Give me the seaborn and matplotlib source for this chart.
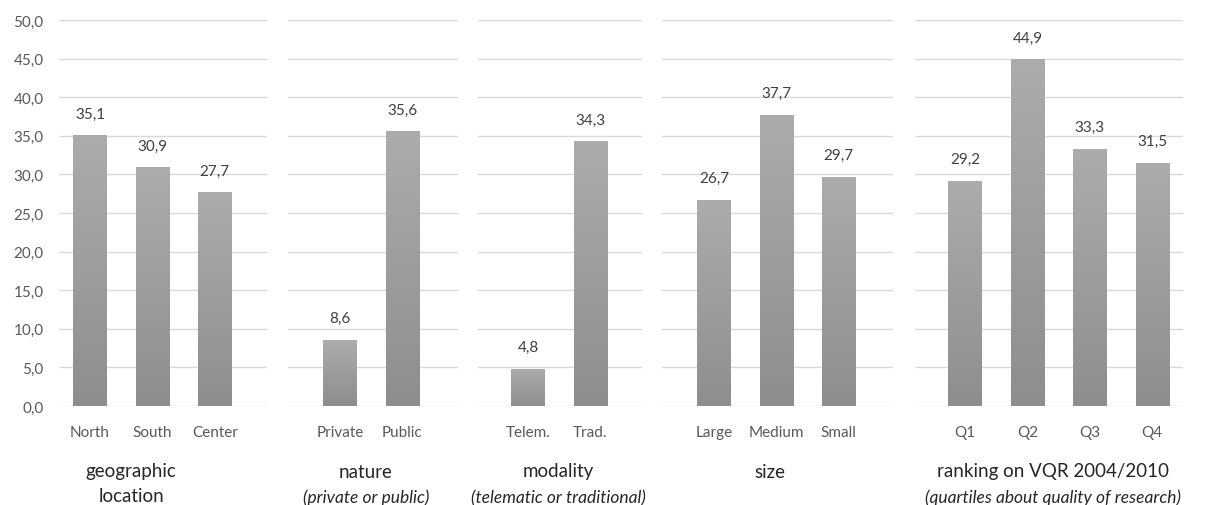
import numpy as np
import pandas as pd
import matplotlib
matplotlib.use("Agg")
import matplotlib.pyplot as plt
import seaborn as sns
from matplotlib.colors import LinearSegmentedColormap

# ---- data -------------------------------------------------------------
geo_labels = ["North", "South", "Center"]
geo_values = [35.1, 30.9, 27.7]

nature_labels = ["Private", "Public"]
nature_values = [8.6, 35.6]

modality_labels = ["Telem.", "Trad."]
modality_values = [4.8, 34.3]

size_labels = ["Large", "Medium", "Small"]
size_values = [26.7, 37.7, 29.7]

vqr_labels = ["Q1", "Q2", "Q3", "Q4"]
vqr_values = [29.2, 44.9, 33.3, 31.5]

group_titles = [["geographic", "location"], ["nature"], ["modality"], ["size"],
                ["ranking on VQR 2004/2010"]]
group_subtitles = [None, "(private or public)", "(telematic or traditional)",
                   None, "(quartiles about quality of research)"]

y_ticks = [0, 5, 10, 15, 20, 25, 30, 35, 40, 45, 50]

groups = [
    (geo_labels, geo_values),
    (nature_labels, nature_values),
    (modality_labels, modality_values),
    (size_labels, size_values),
    (vqr_labels, vqr_values),
]

# ---- layout (pixels) --------------------------------------------------
W, H = 1205, 506
SLOT = 62.4                      # pixel width of one category slot
panel_px = [(59, 267), (288, 458), (478, 642), (662, 893), (915, 1183)]
first_center_px = [90, 340, 528, 714, 965]
title_x_px = [131, 366, 558, 770, 1053]
y_bottom_px, y_top_px = 407, 21

sns.set_theme(style="white")
plt.rcParams["font.family"] = ["Lato", "DejaVu Sans"]

fig = plt.figure(figsize=(W / 100, H / 100), dpi=100)
fig.patch.set_facecolor("white")

grad_cmap = LinearSegmentedColormap.from_list("bar", ["#8e8e8e", "#acacac"])
grad = np.linspace(0, 1, 256).reshape(-1, 1)

tick_color = "#595959"
label_size = 11

for i, (labels, values) in enumerate(groups):
    L, R = panel_px[i]
    ax = fig.add_axes([L / W, (H - y_bottom_px) / H, (R - L) / W,
                       (y_bottom_px - y_top_px) / H])
    df = pd.DataFrame({"cat": labels, "val": values})
    sns.barplot(data=df, x="cat", y="val", ax=ax, color="#9c9c9c",
                width=0.53, saturation=1, zorder=3)

    c0 = first_center_px[i]
    ax.set_yticks(y_ticks)
    ax.grid(axis="y", color="#d9d9d9", linewidth=1.0, zorder=0)
    ax.grid(axis="x", visible=False)
    for s in ax.spines.values():
        s.set_visible(False)
    ax.set_xlabel("")
    ax.set_ylabel("")
    ax.tick_params(axis="x", length=0, pad=14, labelsize=label_size,
                   labelcolor=tick_color)
    if i == 0:
        ax.tick_params(axis="y", length=0, pad=11, labelsize=label_size,
                       labelcolor=tick_color)
        ax.set_yticklabels([f"{t:.1f}".replace(".", ",") for t in y_ticks])
    else:
        ax.tick_params(axis="y", length=0, labelleft=False)

    # vertical gradient fill for every bar
    for patch, v in zip(ax.patches, values):
        x0 = patch.get_x()
        w = patch.get_width()
        patch.set_facecolor("none")
        patch.set_edgecolor("none")
        im = ax.imshow(grad, cmap=grad_cmap, origin="lower", aspect="auto",
                       extent=(x0, x0 + w, 0, v), zorder=3,
                       interpolation="bilinear")
        im.set_clip_path(patch)
        ax.annotate(f"{v:.1f}".replace(".", ","), (x0 + w / 2, v),
                    xytext=(0, 10.5), textcoords="offset points",
                    ha="center", va="bottom", fontsize=label_size,
                    color="#404040")
    ax.set_xlim((L - c0) / SLOT, (R - c0) / SLOT)
    ax.set_ylim(0, 50)

    # group titles under each panel
    tx = title_x_px[i] / W
    for k, line in enumerate(group_titles[i]):
        fig.text(tx, 1 - (472 + 25 * k) / H, line, ha="center", va="center",
                 fontsize=13.5, color="#262626")
    if group_subtitles[i]:
        fig.text(tx, 1 - 498 / H, group_subtitles[i], ha="center",
                 va="center", fontsize=12.5, style="italic", color="#262626")

fig.savefig("out.png", dpi=100, facecolor="white")
